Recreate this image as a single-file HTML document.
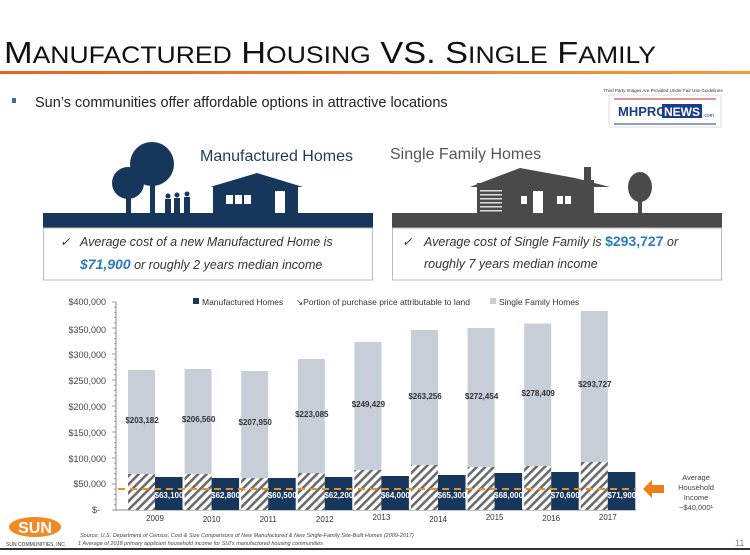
<!DOCTYPE html>
<html><head><meta charset="utf-8"><style>
body{margin:0;width:750px;height:550px;overflow:hidden;background:#fff;font-family:"Liberation Sans",sans-serif;}
</style></head><body>
<svg width="750" height="550" viewBox="0 0 750 550" xmlns="http://www.w3.org/2000/svg" font-family="Liberation Sans, sans-serif">
<defs>
<linearGradient id="og" x1="0" x2="1"><stop offset="0" stop-color="#e8631a"/><stop offset="1" stop-color="#f39a3a"/></linearGradient>
<pattern id="hatch" width="6" height="6" patternUnits="userSpaceOnUse" patternTransform="rotate(45)">
<rect width="6" height="6" fill="#fff"/><rect width="2.6" height="6" fill="#6b6b6b"/></pattern>
</defs>
<text x="4" y="63" font-size="31" fill="#111" font-family="Liberation Sans Narrow, Liberation Sans, sans-serif" textLength="652" lengthAdjust="spacingAndGlyphs">M<tspan font-size="24">ANUFACTURED</tspan> H<tspan font-size="24">OUSING</tspan> VS. S<tspan font-size="24">INGLE</tspan> F<tspan font-size="24">AMILY</tspan></text>
<rect x="0" y="71" width="750" height="3" fill="url(#og)"/>
<rect x="12" y="98" width="4" height="5" fill="#4a6c8c"/>
<text x="35" y="107" font-size="14.5" fill="#222">Sun’s communities offer affordable options in attractive locations</text>
<!-- logo -->
<text x="663" y="92" font-size="4.5" fill="#333" text-anchor="middle">Third Party Images Are Provided Under Fair Use Guidelines</text>
<rect x="609" y="95" width="112" height="32" fill="#fff" stroke="#ddd"/>
<line x1="614" y1="99" x2="716" y2="99" stroke="#c62828"/>
<text x="618" y="116" font-size="13" font-weight="bold" fill="#1a3c8c">MHPRO</text>
<rect x="662" y="104" width="40" height="14" fill="#1a3c8c"/>
<text x="664" y="116" font-size="12" font-weight="bold" fill="#fff">NEWS</text>
<text x="703" y="117" font-size="5" fill="#1a3c8c">.com</text>
<line x1="614" y1="124" x2="716" y2="124" stroke="#1a3c8c"/>
<!-- left icon -->
<text x="200" y="161" font-size="16" fill="#1f3b5c">Manufactured Homes</text>
<circle cx="152" cy="164" r="22" fill="#16365b"/><circle cx="128" cy="183" r="16" fill="#16365b"/>
<rect x="126" y="190" width="5" height="25" fill="#16365b"/><rect x="150" y="180" width="5" height="35" fill="#16365b"/>
<g fill="#16365b"><circle cx="168" cy="196" r="2.5"/><rect x="165" y="199" width="6" height="14"/><circle cx="177" cy="195" r="2.5"/><rect x="174" y="198" width="6" height="15"/><circle cx="187" cy="194" r="2.5"/><rect x="184" y="197" width="6" height="16"/></g>
<polygon points="210,187 257,173 303,187" fill="#16365b"/><rect x="213" y="186" width="85" height="28" fill="#16365b"/>
<g fill="#fff"><rect x="226" y="195" width="7" height="9"/><rect x="235" y="195" width="7" height="9"/><rect x="244" y="195" width="7" height="9"/><rect x="275" y="191" width="10" height="22"/></g>
<rect x="43" y="213" width="330" height="15" fill="#16365b"/>
<rect x="43.5" y="228" width="329" height="52" fill="#fff" stroke="#bbb"/>
<text x="60" y="246" font-size="12.5" font-style="italic" fill="#333">✓</text>
<text x="80" y="246" font-size="12.5" font-style="italic" fill="#333">Average cost of a new Manufactured Home is</text>
<text x="80" y="269" font-size="12.5" font-style="italic" fill="#333"><tspan fill="#2b7bc0" font-weight="bold" font-size="14">$71,900</tspan> or roughly 2 years median income</text>
<!-- right icon -->
<text x="390" y="159" font-size="16" fill="#555">Single Family Homes</text>
<polygon points="470,187 520,168 575,178 610,187" fill="#4a4a4a"/><rect x="584" y="167" width="7" height="14" fill="#4a4a4a"/>
<rect x="477" y="183" width="28" height="31" fill="#4a4a4a"/><rect x="505" y="180" width="89" height="34" fill="#4a4a4a"/>
<g fill="#ddd"><rect x="480" y="190" width="22" height="1.5"/><rect x="480" y="194" width="22" height="1.5"/><rect x="480" y="198" width="22" height="1.5"/><rect x="480" y="202" width="22" height="1.5"/><rect x="480" y="206" width="22" height="1.5"/><rect x="480" y="210" width="22" height="1.5"/></g>
<g fill="#fff"><rect x="521" y="196" width="6" height="8"/><rect x="557" y="196" width="6" height="8"/><rect x="565" y="196" width="6" height="8"/><rect x="533" y="191" width="10" height="22"/></g>
<ellipse cx="640" cy="187" rx="12" ry="15" fill="#4a4a4a"/><rect x="638" y="195" width="4" height="20" fill="#4a4a4a"/>
<rect x="392" y="213" width="330" height="15" fill="#4a4a4a"/>
<rect x="392.5" y="228" width="329" height="52" fill="#fff" stroke="#bbb"/>
<text x="402" y="246" font-size="12.5" font-style="italic" fill="#333">✓</text>
<text x="424" y="246" font-size="12.5" font-style="italic" fill="#333">Average cost of Single Family is <tspan fill="#2b7bc0" font-weight="bold" font-style="normal" font-size="14">$293,727</tspan> or</text>
<text x="424" y="268" font-size="12.5" font-style="italic" fill="#333">roughly 7 years median income</text>
<!-- chart -->
<g font-size="9" fill="#444" text-anchor="end">
<text x="106" y="305">$400,000</text><text x="106" y="333">$350,000</text><text x="106" y="358">$300,000</text><text x="106" y="384">$250,000</text><text x="106" y="410">$200,000</text><text x="106" y="436">$150,000</text><text x="106" y="462">$100,000</text><text x="106" y="487">$50,000</text><text x="100" y="513">$-</text>
</g>
<line x1="116" y1="302" x2="116" y2="510" stroke="#888"/>
<g id="ticks" stroke="#999"></g>
<line x1="116" y1="510" x2="636" y2="510" stroke="#888"/>
<g font-size="8.5" fill="#333">
<rect x="193" y="298" width="6" height="6" fill="#16365b"/><text x="202" y="305">Manufactured Homes</text>
<text x="296" y="305">↘Portion of purchase price attributable to land</text>
<rect x="490" y="298" width="6" height="6" fill="#c7ced8"/><text x="499" y="305">Single Family Homes</text>
</g>
<g id="bars"></g>
<line x1="118" y1="489" x2="636" y2="489" stroke="#e8902a" stroke-width="2" stroke-dasharray="7,5"/>
<g font-size="8" fill="#333" text-anchor="middle" id="lbls"></g>
<!-- right annotation -->
<polygon points="643,489 652,480 652,485 664,485 664,493 652,493 652,498" fill="#ef7d1a"/>
<g font-size="7.5" fill="#444" text-anchor="middle"><text x="696" y="480">Average</text><text x="696" y="490">Household</text><text x="696" y="500">Income</text><text x="696" y="510">~$40,000¹</text></g>
<!-- footer -->
<ellipse cx="35" cy="527" rx="26" ry="10" fill="#f08a24"/>
<text x="35" y="533" font-size="16" font-weight="bold" fill="#fff" text-anchor="middle">SUN</text>
<text x="6" y="546" font-size="5" fill="#333">SUN COMMUNITIES, INC.</text>
<text x="80" y="537" font-size="5.5" font-style="italic" fill="#444">Source: U.S. Department of Census, Cost &amp; Size Comparisons of New Manufactured &amp; New Single-Family Site-Built Homes (2009-2017)</text>
<text x="78" y="545" font-size="5.5" font-style="italic" fill="#444">1  Average of 2018 primary applicant household income for SUI's manufactured housing communities</text>
<text x="735" y="546" font-size="9" fill="#888">11</text>
<rect x="0" y="548" width="750" height="2" fill="#333"/>
</svg>
<script>
var g=document.getElementById('bars'),L=document.getElementById('lbls'),T=document.getElementById('ticks'),ns='http://www.w3.org/2000/svg';
for(var k=0;k<=40;k++){var yy=302+k*5.2,e=document.createElementNS(ns,'line');e.setAttribute('x1',k%5==0?112:114);e.setAttribute('x2',116);e.setAttribute('y1',yy);e.setAttribute('y2',yy);T.appendChild(e);}
var gt=[370,369,371,359,342,330,328,323.5,311],ht=[474,474,478,473,470,465,467,466,462],nt=[477,478,478,477,476,475,473,472,472];
var sf=['$203,182','$206,560','$207,950','$223,085','$249,429','$263,256','$272,454','$278,409','$293,727'];
var sy=[423,422,425,417,407,399,399,396,387];
var mh=['$63,100','$62,800','$60,500','$62,200','$64,000','$65,300','$68,000','$70,600','$71,900'];
var yr=[518,519,519,519,517,519,517,518,517];
function r(x,y,w,h,f){var e=document.createElementNS(ns,'rect');e.setAttribute('x',x);e.setAttribute('y',y);e.setAttribute('width',w);e.setAttribute('height',h);e.setAttribute('fill',f);g.appendChild(e);}
function t(x,y,s,f,b){var e=document.createElementNS(ns,'text');e.setAttribute('x',x);e.setAttribute('y',y);e.setAttribute('fill',f);if(b)e.setAttribute('font-weight','bold');e.textContent=s;L.appendChild(e);}
for(var i=0;i<9;i++){var x=128+i*56.6;
r(x,gt[i],27,510-gt[i],'#c7ced8');r(x,ht[i],27,510-ht[i],'url(#hatch)');r(x+27,nt[i],27.5,510-nt[i],'#16365b');
t(x+14,sy[i],sf[i],'#333',1);t(x+41,498,mh[i],'#fff',1);t(x+27,yr[i]+3,String(2009+i),'#333');}
</script>
</body></html>
